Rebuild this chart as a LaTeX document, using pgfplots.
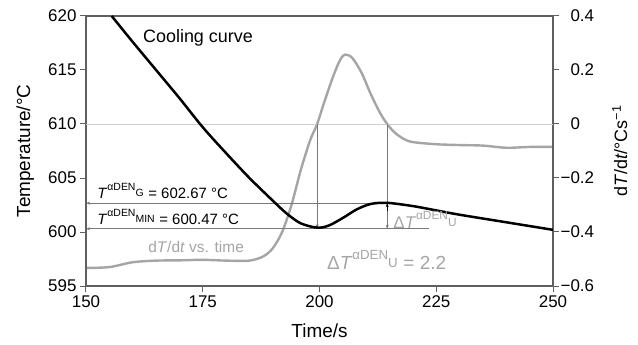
\documentclass[border=0pt]{standalone}
\usepackage{pgfplots}
\pgfplotsset{compat=1.18}
\usepackage{fontspec}
\setmainfont{Liberation Sans}
\usetikzlibrary{arrows.meta}
\definecolor{curvegray}{RGB}{165,165,165}
\definecolor{axgray}{RGB}{95,95,95}
\definecolor{linegray}{RGB}{120,120,120}
\definecolor{lightg}{RGB}{205,205,205}
\newcommand{\Tsym}[1]{\textit{T}\textsuperscript{αDEN\raisebox{-1.1ex}{#1}}}
\begin{document}
\begin{tikzpicture}
\path[use as bounding box] (-86bp,-59bp) rectangle (552bp,286bp);
\pgfplotsset{base/.style={
  scale only axis, width=467bp, height=270bp, at={(0,0)}, anchor=south west,
  xmin=150, xmax=250, tick align=outside,
  axis line style={axgray, line width=1.2bp},
  major tick length=6bp,
  every tick/.style={axgray, line width=1bp},
  tick label style={font=\fontsize{17}{19}\selectfont},
  /pgf/number format/assume math mode=true,
  label style={font=\fontsize{19}{22}\selectfont},
  clip=false}}
% right axis: dT/dt
\begin{axis}[base, axis x line=none, axis y line*=right,
  ymin=-0.6, ymax=0.4, ytick={-0.6,-0.4,-0.2,0,0.2,0.4},
  yticklabels={\llap{−}0.6,\llap{−}0.4,\llap{−}0.2,0,0.2,0.4},
  yticklabel style={xshift=8bp},
  ylabel={d\textit{T}/d\textit{t}/°Cs\textsuperscript{−1}},
  ylabel style={at={(axis description cs:1.143,0.5)}, anchor=center, font=\fontsize{18}{21}\selectfont}]
\addplot[curvegray, line width=2.4bp, smooth, tension=0.5] coordinates {
(150,-0.533) (155,-0.53) (160,-0.512) (165,-0.506) (170,-0.505) (175,-0.503)
(180,-0.506) (185,-0.506) (188,-0.49) (190,-0.46) (192,-0.40) (194,-0.30)
(196,-0.17) (198,-0.06) (199.5,0.0) (201,0.08) (203,0.18) (204.5,0.24)
(205.5,0.257) (207,0.245) (209,0.19) (211,0.11) (213,0.04) (214.5,0.0)
(216,-0.03) (218,-0.055) (220,-0.067) (225,-0.075) (230,-0.078) (235,-0.08)
(240,-0.088) (245,-0.085) (250,-0.085)};
\end{axis}
% left axis: temperature
\begin{axis}[base, ymin=595, ymax=620, ytick={595,600,...,620},
  xtick={150,175,200,225,250}, xtick pos=bottom, ytick pos=left,
  xlabel={Time/s}, ylabel={Temperature/°C},
  ylabel style={at={(axis description cs:-0.13,0.5)}, anchor=center},
  xlabel style={at={(axis description cs:0.5,-0.165)}, anchor=center}]
\draw[lightg, line width=0.9bp] (axis cs:150,610) -- (axis cs:250,610);
\draw[linegray, line width=0.9bp, {Stealth[length=4bp,width=3bp]}-] (axis cs:150,602.67) -- (axis cs:214.5,602.67);
\draw[linegray, line width=0.9bp, {Stealth[length=4bp,width=3bp]}-] (axis cs:150,600.3) -- (axis cs:223.5,600.3);
\draw[linegray, line width=0.9bp, -{Stealth[length=4bp,width=3bp]}] (axis cs:199.5,610) -- (axis cs:199.5,600.35);
\draw[linegray, line width=0.9bp, -{Stealth[length=4bp,width=3bp]}] (axis cs:214.5,610) -- (axis cs:214.5,600.3);
\draw[black, line width=0.9bp, -{Stealth[length=4bp,width=3bp]}] (axis cs:214.5,601.9) -- (axis cs:214.5,602.67);
\addplot[black, line width=2.5bp, smooth, tension=0.5] coordinates {
(155.5,620) (160,617.6) (165,615) (170,612.4) (175,609.7) (180,607.3)
(185,605) (190,602.9) (193,601.7) (196,600.8) (199.5,600.4) (202,600.6)
(205,601.3) (208,602.1) (211,602.6) (214.5,602.7) (220,602.4) (225,602.0)
(230,601.6) (240,600.9) (250,600.2)};
\node[anchor=west, font=\fontsize{18}{21}\selectfont, inner sep=0pt] at (axis cs:162.2,618) {Cooling curve};
\node[anchor=west, font=\fontsize{15.5}{18}\selectfont, text=curvegray, inner sep=0pt] at (axis cs:163.3,598.6) {d\textit{T}/d\textit{t} vs. time};
\node[anchor=west, font=\fontsize{15}{17}\selectfont, inner sep=0pt] at (axis cs:152.4,603.8) {\Tsym{G} = 602.67 °C};
\node[anchor=west, font=\fontsize{15}{17}\selectfont, inner sep=0pt] at (axis cs:152.4,601.4) {\Tsym{MIN} = 600.47 °C};
\node[anchor=west, font=\fontsize{17}{19}\selectfont, text=curvegray, inner sep=0pt] at (axis cs:215.8,601.1) {Δ\Tsym{U}};
\node[anchor=west, font=\fontsize{19}{22}\selectfont, text=curvegray, inner sep=0pt] at (axis cs:201.6,597.4) {Δ\Tsym{U} = 2.2};
\end{axis}
\end{tikzpicture}
\end{document}
